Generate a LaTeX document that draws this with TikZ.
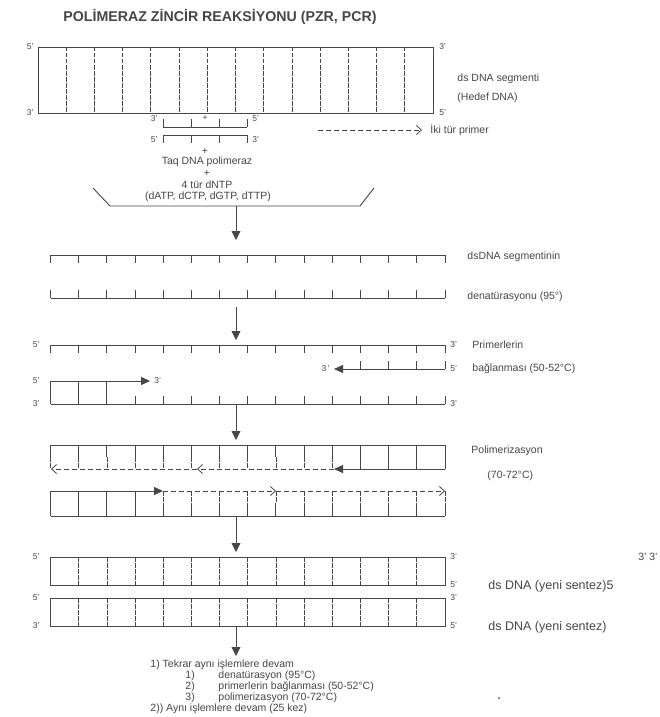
\documentclass[tikz,border=0pt]{standalone}
\usepackage{fontspec}
\setmainfont{Liberation Sans}
\usetikzlibrary{arrows.meta,positioning}
\definecolor{ink}{RGB}{70,70,70}
\tikzset{
  every picture/.style={color=ink, line width=0.9pt},
  title/.style={font=\bfseries\fontsize{14.2}{16}\selectfont, text=ink, inner sep=0pt},
  mid/.style={font=\fontsize{10.5}{12}\selectfont, text=ink, inner sep=0pt},
  lbl/.style={font=\fontsize{10.5}{12}\selectfont, text=ink, inner sep=0pt, anchor=west},
  biglbl/.style={lbl, font=\fontsize{12.5}{14}\selectfont},
  prime/.style={font=\fontsize{8.5}{10}\selectfont, text=ink, inner sep=0pt},
  rung/.style={line width=0.7pt, dash pattern=on 4.5pt off 1.5pt},
  newdna/.style={line width=0.8pt, dash pattern=on 5pt off 3pt},
  stepflow/.style={-{Triangle[length=9pt,width=9pt]}, line width=0.9pt},
  fwd/.style={-{Triangle[length=9pt,width=8pt]}},
  ext/.style={newdna, -{Straight Barb[length=5pt,width=9pt]}},
}

\begin{document}
\begin{tikzpicture}[x=1pt, y=-1pt]
  \useasboundingbox[fill=white] (0,0) rectangle (660,717);
  \node[title] (head) at (220,17) {POLİMERAZ ZİNCİR REAKSİYONU (PZR, PCR)};

  % hedef DNA
  \draw (38,47) rectangle (433,113);
  \foreach \i in {1,...,13} \draw[rung] (38+\i*28.21,47) -- (38+\i*28.21,113);
  \node[prime, anchor=east] (a1) at (34,47) {5'};
  \node[prime, anchor=east] (a2) at (34,113) {3'};
  \node[prime, anchor=west] (a3) at (439,47) {3'};
  \node[prime, anchor=west] (a4) at (439,113) {5'};
  \node[lbl] (hedef1) at (457,79) {ds DNA segmenti};
  \node[lbl] (hedef2) at (457,98) {(Hedef DNA)};

  % primerler + karisim
  \draw (163,127) -- (247,127);
  \foreach \i in {0,...,3} \draw (163+\i*28,127) -- ++(0,-8);
  \draw (163,135) -- (247,135);
  \foreach \i in {0,...,3} \draw (163+\i*28,135) -- ++(0,8);
  \node[prime, anchor=east] (p1) at (158,119) {3'};
  \node[prime] (plus0) at (205,118) {+};
  \node[prime, anchor=west] (p2) at (252,119) {5'};
  \node[prime, anchor=east] (p3) at (158,140) {5'};
  \node[prime, anchor=west] (p4) at (252,140) {3'};
  \coordinate (pr) at (318,130);
  \node[lbl] (iki) at (430,130) {İki tür primer};
  \draw[ext, shorten >=8pt] (pr) -- (iki.west);
  \node[mid] (plus1) at (205,151) {+};
  \node[mid] (taq) at (207,162) {Taq DNA polimeraz};
  \node[mid] (plus2) at (207,173) {+};
  \node[mid] (dntp) at (207,185) {4 tür dNTP};
  \node[mid] (dxtp) at (208,197) {(dATP, dCTP, dGTP, dTTP)};
  \draw (93,188) -- (110,206) -- (360,206) -- (374,188);

  % denaturasyon
  \coordinate (s0) at (236,206);
  \coordinate (s1) at (236,240);
  \draw[stepflow] (s0) -- (s1);
  \draw (50.5,255) -- (445,255);
  \foreach \i in {0,...,14} \draw (50.5+\i*28.18,255) -- ++(0,8);
  \draw (50.5,298) -- (445,298);
  \foreach \i in {0,...,14} \draw (50.5+\i*28.18,298) -- ++(0,-8);
  \node[lbl] (den1) at (467,257) {dsDNA segmentinin};
  \node[lbl] (den2) at (467,297) {denatürasyonu (95°)};

  % primer baglanmasi
  \coordinate (s2) at (236,307);
  \coordinate (s3) at (236,340);
  \draw[stepflow] (s2) -- (s3);
  \draw (50.5,345) -- (445,345);
  \foreach \i in {0,...,14} \draw (50.5+\i*28.18,345) -- ++(0,8);
  \draw[fwd] (445,369) -- (334,369);
  \foreach \i in {11,...,14} \draw (50.5+\i*28.18,369) -- ++(0,-8);
  \draw[fwd] (50.5,381) -- (150,381);
  \foreach \i in {0,...,2} \draw (50.5+\i*28.18,381) -- (50.5+\i*28.18,404);
  \draw (50.5,404) -- (445,404);
  \foreach \i in {3,...,14} \draw (50.5+\i*28.18,404) -- ++(0,-8);
  \node[prime, anchor=east] (b1) at (40,345) {5'};
  \node[prime, anchor=west] (b2) at (450,345) {3'};
  \node[prime, anchor=east] (b3) at (330,369) {3\,'};
  \node[prime, anchor=west] (b4) at (450,369) {5'};
  \node[prime, anchor=east] (b5) at (40,381) {5'};
  \node[prime, anchor=west] (b6) at (154,381) {3'};
  \node[prime, anchor=east] (b7) at (40,404) {3'};
  \node[prime, anchor=west] (b8) at (450,404) {3'};
  \node[lbl] (bag1) at (472,345) {Primerlerin};
  \node[lbl] (bag2) at (472,369) {bağlanması (50-52°C)};

  % polimerizasyon
  \coordinate (s4) at (236,404);
  \coordinate (s5) at (236,440);
  \draw[stepflow] (s4) -- (s5);
  \draw (50.5,445) -- (445,445);
  \foreach \i in {0,...,10} {
    \draw (50.5+\i*28.18,445) -- (50.5+\i*28.18,457);
    \draw[rung] (50.5+\i*28.18,457) -- (50.5+\i*28.18,469);
  }
  \foreach \i in {11,...,14} \draw (50.5+\i*28.18,445) -- (50.5+\i*28.18,469);
  \draw[fwd] (445,469) -- (334,469);
  \draw[ext] (334,469) -- (197,469);
  \draw[ext] (197,469) -- (51,469);
  \draw[fwd] (50.5,491) -- (163,491);
  \draw[ext] (163,491) -- (276,491);
  \draw[ext] (276,491) -- (445,491);
  \foreach \i in {0,...,3} \draw (50.5+\i*28.18,491) -- (50.5+\i*28.18,516);
  \foreach \i in {4,...,14} {
    \draw[rung] (50.5+\i*28.18,491) -- (50.5+\i*28.18,503);
    \draw (50.5+\i*28.18,503) -- (50.5+\i*28.18,516);
  }
  \draw (50.5,516) -- (445,516);
  \node[lbl] (pol1) at (471,451) {Polimerizasyon};
  \node[lbl] (pol2) at (487,476) {(70-72°C)};

  % yeni sentez
  \coordinate (s6) at (236,516);
  \coordinate (s7) at (236,552);
  \draw[stepflow] (s6) -- (s7);
  \draw (50.5,557) rectangle (445,585);
  \foreach \i in {1,...,13} \draw[rung] (50.5+\i*28.18,557) -- (50.5+\i*28.18,585);
  \draw (50.5,598) rectangle (445,626);
  \foreach \i in {1,...,13} \draw[rung] (50.5+\i*28.18,598) -- (50.5+\i*28.18,626);
  \node[prime, anchor=east] (c1) at (40,557) {5'};
  \node[prime, anchor=west] (c2) at (450,557) {3'};
  \node[prime, anchor=west] (c3) at (450,585) {5'};
  \node[prime, anchor=east] (c4) at (40,598) {5'};
  \node[prime, anchor=east] (c5) at (40,626) {3'};
  \node[prime, anchor=west] (c6) at (450,598) {3'};
  \node[prime, anchor=west] (c7) at (450,626) {5'};
  \node[lbl, anchor=east] (c8) at (658,557) {3' 3'};
  \node[biglbl] (yeni1) at (488,586) {ds DNA (yeni sentez)5};
  \node[biglbl] (yeni2) at (488,627) {ds DNA (yeni sentez)};

  % tekrar
  \coordinate (s8) at (236,626);
  \coordinate (s9) at (236,656);
  \draw[stepflow] (s8) -- (s9);
  \node[lbl] (t0) at (150,665) {1) Tekrar aynı işlemlere devam};
  \node[lbl] (n1) at (185,676) {1)};
  \node[lbl] (t1) at (218,676) {denatürasyon (95°C)};
  \node[lbl] (n2) at (185,687) {2)};
  \node[lbl] (t2) at (218,687) {primerlerin bağlanması (50-52°C)};
  \node[lbl] (n3) at (185,698) {3)};
  \node[lbl] (t3) at (218,698) {polimerizasyon (70-72°C)};
  \node[lbl] (t4) at (150,709) {2)) Aynı işlemlere devam (25 kez)};
  \fill (499,698) circle (1);
\end{tikzpicture}
\end{document}
